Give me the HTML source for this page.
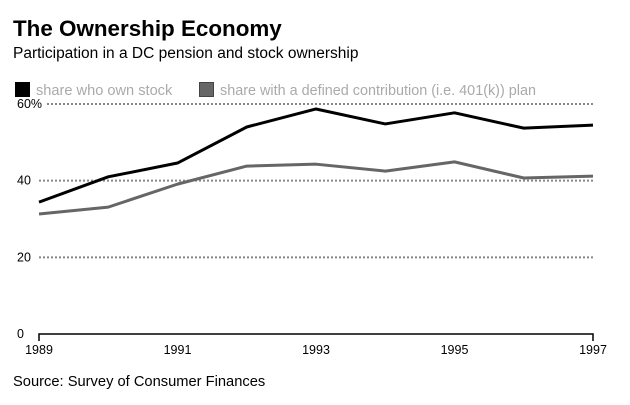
<!DOCTYPE html>
<html><head><meta charset="utf-8"><style>
body{margin:0;background:#fff;font-family:"Liberation Sans",Arial,sans-serif;}
svg text{font-family:"Liberation Sans",Arial,sans-serif;}
</style></head><body>
<svg width="630" height="400">
<text x="13" y="36" font-size="22.4" font-weight="bold" fill="#000">The Ownership Economy</text>
<text x="13" y="58" font-size="15.5" fill="#000">Participation in a DC pension and stock ownership</text>
<rect x="15" y="82" width="15" height="15" fill="#000"/>
<text x="36" y="95" font-size="14.6" fill="#aaa">share who own stock</text>
<rect x="199.5" y="82.5" width="14" height="14" fill="#666" stroke="#444" stroke-width="1"/>
<text x="220" y="95" font-size="14.4" fill="#aaa">share with a defined contribution (i.e. 401(k)) plan</text>
<g id="grid"></g>
<g id="series"></g>
<text x="13" y="386" font-size="14.7" fill="#000">Source: Survey of Consumer Finances</text>
</svg>
<script>
const years=[1989,1990,1991,1992,1993,1994,1995,1996,1997];
const stockValues=[34.4,41,44.6,54,58.7,54.8,57.7,53.7,54.5];
const dcValues=[31.3,33.1,39.1,43.8,44.3,42.5,44.9,40.7,41.2];
const yTicks=[0,20,40,60];
const yTickLabels=["0","20","40","60%"];
const xTicks=[1989,1991,1993,1995,1997];
const NS="http://www.w3.org/2000/svg";
const x=v=>39+(v-1989)*(593-39)/8;
const y=v=>334-v*(334-104)/60;
const grid=document.getElementById('grid');
function mk(t,a,p){const e=document.createElementNS(NS,t);for(const k in a)e.setAttribute(k,a[k]);p.appendChild(e);return e;}
yTicks.forEach((t,i)=>{
  const yy=y(t);
  if(t>0){const l=mk('line',{x1:i==3?47:39,x2:593,y1:yy,y2:yy,stroke:'#888','stroke-width':2,'stroke-dasharray':'2,2'},grid);
  
  }
  const tx=mk('text',{x:17,y:yy+4,'font-size':12.5,fill:'#000'},grid);tx.textContent=yTickLabels[i];
  
  
});
const ax=mk('path',{d:`M${x(1989)},${y(0)+7}V${y(0)}H${x(1997)}V${y(0)+7}`,stroke:'#000','stroke-width':1.5,fill:'none'},grid);


xTicks.forEach(t=>{
  const tx=mk('text',{x:x(t),y:354,'font-size':12.5,'text-anchor':'middle',fill:'#000'},grid);tx.textContent=t;
  
  
});
const s=document.getElementById('series');
function line(vals,col,name){
  const p=mk('polyline',{points:vals.map((v,i)=>x(years[i])+','+y(v)).join(' '),fill:'none',stroke:col,'stroke-width':3,'stroke-linejoin':'round'},s);
  
  
}
line(dcValues,'#666','line-dc-plan');
line(stockValues,'#000','line-stock-ownership');
</script>
</body></html>
